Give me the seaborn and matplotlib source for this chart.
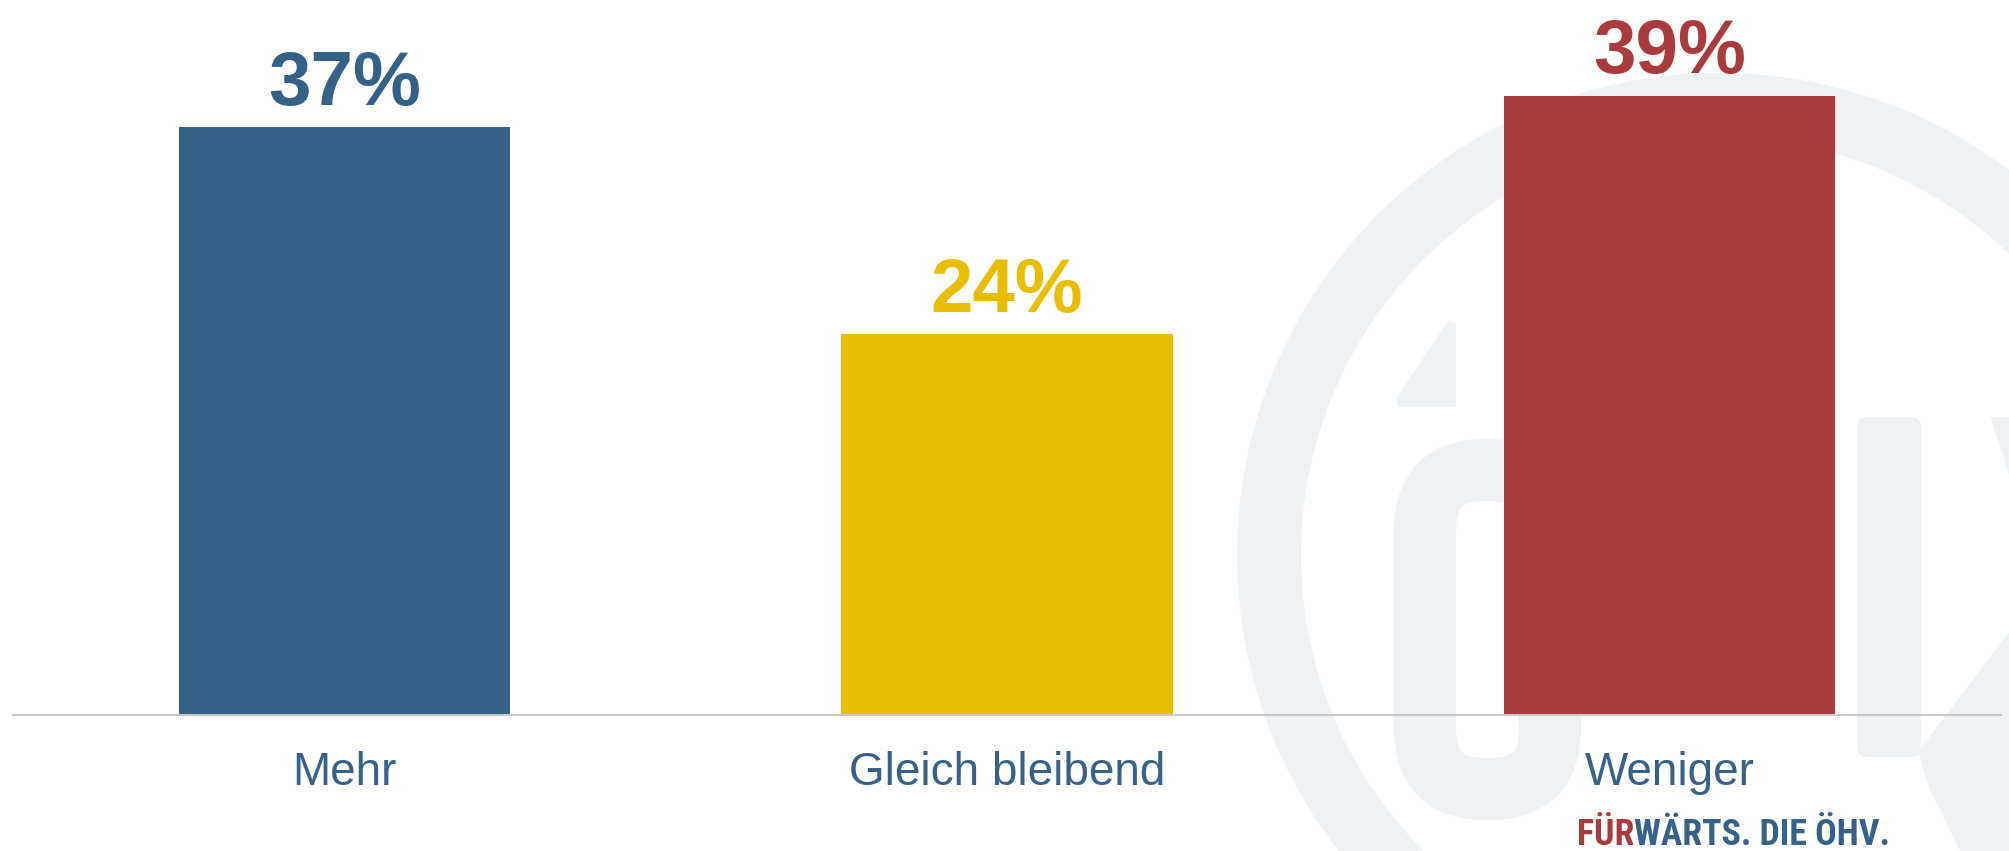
import matplotlib
matplotlib.use("Agg")
import matplotlib.pyplot as plt
import matplotlib.patches as mpatches
from matplotlib import font_manager as fm
import seaborn as sns

# ---- data ----
categories = ["Mehr", "Gleich bleibend", "Weniger"]
values = [37, 24, 39]
value_labels = ["37%", "24%", "39%"]
bar_colors = ["#356187", "#E9BE00", "#AA3B3C"]
footer_parts = ["FÜR", "WÄRTS. DIE ÖHV."]
footer_colors = ["#AA3B3C", "#36618A"]

sns.set_style("white")
plt.rcParams["font.family"] = ["Liberation Sans", "DejaVu Sans"]

W, H = 2009, 851
fig = plt.figure(figsize=(W / 100, H / 100), dpi=100)
fig.patch.set_facecolor("white")

# ---- background watermark (decorative logo, pixel coordinates) ----
bg = fig.add_axes([0, 0, 1, 1])
bg.set_xlim(0, W)
bg.set_ylim(H, 0)
bg.axis("off")
wm = "#EEF2F5"
bg.add_patch(mpatches.Annulus((1719, 555), 482, 64, color=wm, lw=0))
bg.add_patch(mpatches.FancyBboxPatch((1425, 470), 125, 319,
                                     boxstyle="round,pad=0,rounding_size=60",
                                     fill=False, edgecolor=wm, lw=62 * 0.72))
bg.add_patch(mpatches.Polygon([(1398, 407), (1456, 407), (1456, 324), (1449, 320), (1396, 398)],
                              closed=True, color=wm, lw=0))
bg.add_patch(mpatches.FancyBboxPatch((1857, 417), 64, 340,
                                     boxstyle="round,pad=0,rounding_size=10",
                                     color=wm, lw=0))
bg.add_patch(mpatches.Polygon([(1990, 417), (2009, 417), (2009, 475), (2003, 455)],
                              closed=True, color=wm, lw=0))
bg.add_patch(mpatches.Polygon([(1918, 752), (2009, 632), (2009, 851), (1960, 851), (1930, 790)],
                              closed=True, color=wm, lw=0))

# ---- main bar chart ----
ax = fig.add_axes([13 / W, 136 / H, 1988 / W, 715 / H])
ax.set_facecolor("none")
sns.barplot(x=categories, y=values, hue=categories, palette=bar_colors,
            saturation=1, width=0.5, legend=False, ax=ax, linewidth=0)
ax.set_xlim(-0.5, 2.5)
ax.set_ylim(0, 715 / 15.88)
ax.set_xlabel("")
ax.set_ylabel("")
ax.set_yticks([])
for s in ["left", "right", "top"]:
    ax.spines[s].set_visible(False)
ax.spines["bottom"].set_color("#C8C8C8")
ax.spines["bottom"].set_linewidth(1.5)
ax.tick_params(axis="x", length=0, pad=26, labelsize=33, labelcolor="#36618A")

for cont, lab, col in zip(ax.containers, value_labels, bar_colors):
    ax.bar_label(cont, labels=[lab], padding=4.5, fontsize=55,
                 fontweight="bold", color=col)

# ---- footer slogan: pick a condensed bold font if one is installed ----
def _has(family, **kw):
    try:
        p = fm.findfont(fm.FontProperties(family=family, weight="bold", **kw),
                        fallback_to_default=False)
        return p
    except Exception:
        return None

footer_font = dict(family=["Liberation Sans"], fontsize=21.5)
for fam, size in [("Liberation Sans Narrow", 26), ("Roboto Condensed", 25.8)]:
    p = _has(fam)
    if p and ("Narrow" in p or "Condensed" in p):
        footer_font = dict(family=[fam, "Liberation Sans"], fontsize=size)
        break

t1 = fig.text(1577 / W, 6 / H, footer_parts[0], ha="left", va="baseline",
              fontweight="bold", color=footer_colors[0], **footer_font)
ax.annotate(footer_parts[1], xy=(1, 0), xycoords=t1, ha="left", va="bottom",
            fontweight="bold", color=footer_colors[1],
            annotation_clip=False, **footer_font)

fig.savefig("out.png", dpi=100, facecolor="white")
